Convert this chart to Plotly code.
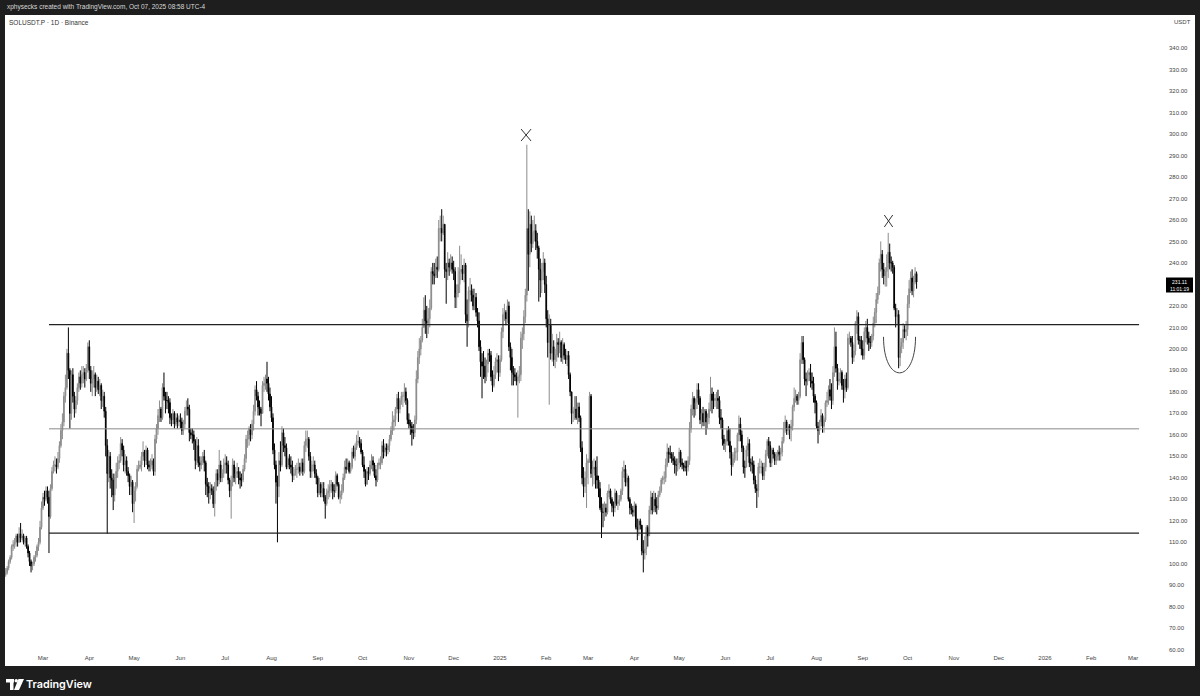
import pandas as pd
import plotly.graph_objects as go

# ---------------- data (daily SOLUSDT.P) ----------------
first_open = 98

c_2024_02 = [97,95,96,98,101,103,108,109,110,113,110,114,112,113,110,112,108,105,101,99,100,103,104,108,110,117,126]
h_2024_02 = [100,98,98,99,102,104,109,111,112,114,114,117,119,116,114,113,113,109,106,102,101,104,106,109,112,120,129]
l_2024_02 = [95,93,94,95,97,100,102,106,107,108,108,110,110,111,109,108,107,103,99,96,97,99,101,103,106,109,116]

c_2024_03 = [131,130,134,131,122,135,143,146,146,145,149,155,162,166,178,182,198,190,170,188,178,172,176,182,187,184,188,189,186,191,201]
h_2024_03 = [133,134,136,136,134,137,145,148,150,149,152,157,165,170,180,188,200,210,191,190,191,180,178,184,189,190,192,192,191,193,203]
l_2024_03 = [125,127,129,128,105,121,134,142,143,142,144,147,154,158,164,175,181,186,163,167,175,168,170,174,180,181,182,184,182,185,189]

c_2024_04 = [190,184,186,188,182,185,181,183,176,178,171,155,142,150,140,139,132,140,143,147,148,156,153,146,148,143,141,136,138,128]
h_2024_04 = [204,192,190,192,189,188,187,186,184,181,180,173,158,153,152,144,142,142,147,150,151,159,158,155,151,150,145,142,141,139]
l_2024_04 = [186,180,178,182,178,180,179,178,172,173,168,150,114,138,135,131,125,129,135,140,144,147,150,143,142,141,138,132,132,124]

c_2024_05 = [134,136,144,145,146,150,152,148,153,146,145,146,148,143,158,163,169,172,168,182,178,176,176,175,168,167,170,165,168,166,167]
h_2024_05 = [136,138,146,148,148,152,157,153,155,154,148,149,151,149,160,165,172,176,173,184,189,180,180,178,177,170,172,171,170,170,169]
l_2024_05 = [119,129,135,143,144,143,148,145,146,144,143,143,144,141,141,156,160,166,166,167,176,170,172,170,165,164,165,163,164,163,164]

c_2024_06 = [166,162,165,171,173,172,161,160,160,157,148,155,147,146,148,150,147,137,136,133,135,134,128,136,142,139,146,140,142,146]
h_2024_06 = [170,168,167,173,176,177,174,163,163,162,158,159,158,150,150,152,153,148,140,138,138,137,136,138,144,144,153,148,144,149]
l_2024_06 = [163,160,160,163,169,169,157,158,156,153,144,146,145,143,144,146,143,132,131,128,130,132,126,122,134,136,137,138,138,140]

c_2024_07 = [147,146,139,134,138,146,140,142,143,140,139,139,144,149,158,158,163,160,165,171,181,178,173,172,170,183,184,186,184,179,173]
h_2024_07 = [151,150,148,140,141,149,148,145,147,145,143,142,146,151,160,162,164,165,167,174,183,185,180,176,173,185,187,188,194,187,182]
l_2024_07 = [142,142,137,131,121,136,138,137,140,137,135,136,138,143,147,154,155,157,158,162,169,176,169,169,164,170,180,181,180,176,171]

c_2024_08 = [168,153,146,138,136,148,146,161,155,154,145,149,146,145,141,142,144,144,145,143,147,143,155,158,158,150,143,146,146,142,140]
h_2024_08 = [178,170,156,148,141,152,157,164,163,159,156,150,151,150,148,145,146,147,149,147,149,149,157,162,162,159,152,148,150,148,144]
l_2024_08 = [166,151,144,128,110,131,143,145,152,150,144,144,144,142,138,139,141,140,142,141,142,141,142,152,154,148,140,140,143,140,137]

c_2024_09 = [133,137,133,135,131,128,133,134,136,137,134,134,141,137,131,132,134,140,145,144,147,143,145,152,150,154,157,157,156,152]
h_2024_09 = [141,140,138,138,138,132,135,137,139,139,138,137,143,142,138,134,137,142,148,149,149,148,147,154,155,156,160,162,159,158]
l_2024_09 = [131,132,131,131,129,121,127,130,131,133,130,131,133,136,130,128,130,133,139,142,144,142,142,144,149,148,153,155,154,151]

c_2024_10 = [146,143,137,143,142,146,148,146,141,139,146,147,147,155,152,154,153,155,158,162,166,167,172,177,172,176,178,178,180,176,167]
h_2024_10 = [153,150,144,145,145,148,151,150,147,144,147,149,150,157,158,156,156,156,160,164,171,169,173,179,180,177,180,180,184,182,177]
l_2024_10 = [145,140,136,137,139,141,144,143,140,136,138,144,144,146,149,150,150,151,152,157,160,162,164,170,166,170,174,173,175,174,165]

c_2024_11 = [165,164,161,161,167,186,196,200,204,210,218,213,212,214,219,236,235,234,238,237,256,256,254,258,237,236,240,238,240,237]
h_2024_11 = [170,167,166,165,169,190,199,205,206,214,224,225,220,219,223,238,240,240,242,243,260,262,265,262,258,240,245,242,244,243]
l_2024_11 = [163,160,155,158,159,165,184,193,197,203,210,207,205,207,210,218,230,230,233,233,236,250,250,253,233,221,232,234,236,235]

c_2024_12 = [236,224,226,230,236,237,235,239,216,213,227,227,225,220,224,217,213,201,194,192,192,187,193,198,197,187,183,188,194,195,189]
h_2024_12 = [241,238,230,238,248,244,239,242,240,223,229,233,230,228,228,226,219,217,204,198,199,196,195,200,200,199,190,192,196,198,197]
l_2024_12 = [232,219,219,224,226,232,232,231,212,201,210,222,222,218,218,215,210,199,187,177,186,184,185,189,194,185,180,182,186,189,185]

c_2025_01 = [195,208,216,217,214,220,201,196,189,188,187,185,187,188,205,207,215,225,256,244,258,249,254,255,250,247,237,232,236,240,230]
h_2025_01 = [197,210,219,221,218,223,222,203,200,192,191,189,190,192,208,210,218,228,295,265,264,262,260,262,258,254,248,242,240,245,242]
l_2025_01 = [187,194,205,213,211,212,199,190,183,183,185,183,168,184,185,200,204,212,222,227,238,245,247,250,246,242,222,224,226,232,226]

c_2025_02 = [214,203,211,198,201,195,197,203,202,203,196,202,197,195,197,188,180,170,171,172,168,173,168,154,140,136,140,147]
h_2025_02 = [234,218,216,214,207,204,200,207,205,208,204,205,203,200,199,199,189,180,173,178,178,175,175,169,157,145,143,151]
l_2025_02 = [210,196,174,195,194,192,191,194,196,198,194,193,195,193,192,186,178,165,166,167,167,165,166,152,137,131,133,126]

c_2025_03 = [148,178,142,144,145,141,139,135,126,124,124,126,124,133,134,130,127,126,133,128,129,130,134,143,144,138,140,130,126,125,124]
h_2025_03 = [149,180,179,148,149,148,150,141,138,131,128,129,128,134,137,135,131,129,135,134,132,132,135,145,148,146,142,141,131,128,127]
l_2025_03 = [137,147,140,136,137,135,135,131,125,112,117,120,122,123,131,128,124,122,124,127,125,127,129,132,140,136,136,129,123,123,122]

c_2025_04 = [127,117,116,120,118,106,105,107,117,113,125,131,125,130,127,126,132,134,139,140,140,146,152,151,151,149,148,146,146,147]
h_2025_04 = [129,128,121,121,121,118,111,113,118,118,127,134,133,134,133,131,134,136,140,141,143,149,156,154,155,152,152,150,149,149]
l_2025_04 = [122,116,111,113,116,104,96,102,104,108,113,123,123,124,124,123,125,131,133,137,137,138,145,147,149,147,146,142,141,143]

c_2025_05 = [152,147,146,145,145,145,148,163,172,177,172,175,181,177,167,170,166,171,166,168,172,179,176,176,177,177,176,168,167,158,156]
h_2025_05 = [154,153,149,147,148,148,150,166,174,180,178,177,184,184,178,172,173,172,172,170,175,187,182,180,179,180,181,178,172,168,160]
l_2025_05 = [144,145,144,143,143,141,143,146,161,169,168,169,172,174,165,163,164,164,160,163,165,171,170,172,173,172,172,165,163,155,153]

c_2025_06 = [157,162,157,152,146,149,152,152,160,165,160,154,145,145,153,156,147,147,146,139,135,134,145,145,145,141,145,151,157,155]
h_2025_06 = [158,163,164,163,155,151,154,154,161,169,168,162,155,148,155,159,158,149,150,148,141,137,147,149,148,147,147,153,158,159]
l_2025_06 = [152,155,155,149,141,145,147,148,148,157,157,152,142,140,145,150,145,143,142,137,133,126,131,142,142,139,139,143,150,149]

c_2025_07 = [147,153,151,148,150,152,151,152,157,163,166,162,164,163,164,173,177,178,176,178,195,203,195,186,185,188,189,185,184,178,175]
h_2025_07 = [157,154,154,152,152,153,155,154,159,166,169,167,165,165,167,174,182,181,179,180,198,206,206,196,189,190,191,193,189,187,179]
l_2025_07 = [145,145,149,146,146,148,148,148,150,156,161,160,160,158,157,162,171,175,174,174,177,193,193,183,178,183,185,182,181,175,170]

c_2025_08 = [164,162,166,169,164,167,175,176,181,178,176,189,201,191,185,186,189,183,181,186,182,205,205,203,196,199,212,215,204,204,200]
h_2025_08 = [176,166,167,172,170,168,176,180,183,186,184,192,210,208,193,189,191,190,186,188,189,207,208,206,206,202,213,218,217,206,206]
l_2025_08 = [163,156,160,164,161,161,166,173,174,176,172,174,187,189,181,183,184,181,175,177,180,181,202,201,193,194,197,207,202,200,197]

c_2025_09 = [197,208,210,205,203,203,206,212,217,223,226,240,244,237,234,236,238,245,240,240,238,219,215,216,196,201,203,209,208,209]
h_2025_09 = [204,210,213,214,208,206,207,215,219,226,229,242,250,246,240,238,244,254,249,243,241,239,221,219,218,205,205,212,211,213]
l_2025_09 = [195,195,203,202,199,200,201,204,210,212,221,225,236,233,230,229,229,233,237,236,235,218,210,211,191,192,198,200,205,204]

c_2025_10 = [221,228,233,227,231,235,231.11]
h_2025_10 = [225,232,236,237,234,238,236]
l_2025_10 = [206,219,226,225,224,230,228]

months = [
    ("2024-02-03", c_2024_02, h_2024_02, l_2024_02),
    ("2024-03-01", c_2024_03, h_2024_03, l_2024_03),
    ("2024-04-01", c_2024_04, h_2024_04, l_2024_04),
    ("2024-05-01", c_2024_05, h_2024_05, l_2024_05),
    ("2024-06-01", c_2024_06, h_2024_06, l_2024_06),
    ("2024-07-01", c_2024_07, h_2024_07, l_2024_07),
    ("2024-08-01", c_2024_08, h_2024_08, l_2024_08),
    ("2024-09-01", c_2024_09, h_2024_09, l_2024_09),
    ("2024-10-01", c_2024_10, h_2024_10, l_2024_10),
    ("2024-11-01", c_2024_11, h_2024_11, l_2024_11),
    ("2024-12-01", c_2024_12, h_2024_12, l_2024_12),
    ("2025-01-01", c_2025_01, h_2025_01, l_2025_01),
    ("2025-02-01", c_2025_02, h_2025_02, l_2025_02),
    ("2025-03-01", c_2025_03, h_2025_03, l_2025_03),
    ("2025-04-01", c_2025_04, h_2025_04, l_2025_04),
    ("2025-05-01", c_2025_05, h_2025_05, l_2025_05),
    ("2025-06-01", c_2025_06, h_2025_06, l_2025_06),
    ("2025-07-01", c_2025_07, h_2025_07, l_2025_07),
    ("2025-08-01", c_2025_08, h_2025_08, l_2025_08),
    ("2025-09-01", c_2025_09, h_2025_09, l_2025_09),
    ("2025-10-01", c_2025_10, h_2025_10, l_2025_10),
]

# horizontal levels drawn on the chart
level_top = 211.3
level_mid = 162.8
level_bot = 114.3
level_start = "2024-03-05"
level_end = "2026-03-05"

last_price = 231.11
countdown = "11:01:19"

y_ticks = list(range(60, 341, 10))
hidden_y_tick = 230  # covered by the last-price label
x_tick_dates = pd.date_range("2024-03-01", "2026-03-01", freq="MS")
x_tick_text = [d.strftime("%b") if d.month != 1 else str(d.year) for d in x_tick_dates]

# ---------------- build OHLC ----------------
dates, close, high, low = [], [], [], []
for start, c, h, l in months:
    n = min(len(c), len(h), len(l))
    dates += list(pd.date_range(start, periods=n, freq="D"))
    close += c[:n]
    high += h[:n]
    low += l[:n]
opens = [first_open] + close[:-1]
high = [max(h, o, c) for h, o, c in zip(high, opens, close)]
low = [min(l, o, c) for l, o, c in zip(low, opens, close)]

# ---------------- figure ----------------
W, H = 1200, 696
ML, MR, MT, MB = 5, 38, 15, 46
PW, PH = W - ML - MR, H - MT - MB


def px_x(px):
    return (px - ML) / PW


def px_y(py):
    return (H - MB - py) / PH


fig = go.Figure()
fig.add_trace(go.Candlestick(
    x=dates, open=opens, high=high, low=low, close=close,
    increasing=dict(line=dict(color="#8c8c8c", width=1), fillcolor="#8c8c8c"),
    decreasing=dict(line=dict(color="#000000", width=1), fillcolor="#000000"),
    whiskerwidth=0, hoverinfo="skip", showlegend=False,
))

shapes = []
# white chart panel on the dark frame
shapes.append(dict(type="rect", xref="paper", yref="paper", x0=px_x(5), x1=px_x(1195),
                   y0=px_y(666), y1=px_y(15), fillcolor="#ffffff", line=dict(width=0), layer="below"))
# horizontal levels
for lv, col, wd in [(level_top, "#222222", 1.3), (level_mid, "#8a8a8a", 1), (level_bot, "#222222", 1.3)]:
    shapes.append(dict(type="line", xref="x", yref="y", x0=level_start, x1=level_end, y0=lv, y1=lv,
                       line=dict(color=col, width=wd)))
# X marks at the two tops
for xa, ya, hw, hh in [("2025-01-18 12:00", 299.5, 5, 6), ("2025-09-18 05:00", 259.5, 4.2, 6)]:
    for sgn in (1, -1):
        shapes.append(dict(type="line", xref="x", yref="y", xsizemode="pixel", ysizemode="pixel",
                           xanchor=xa, yanchor=ya, x0=-hw, x1=hw, y0=-sgn * hh, y1=sgn * hh,
                           line=dict(color="#333333", width=1)))
# U-shaped arc under the recent dip
shapes.append(dict(type="path", xref="x", yref="y", xsizemode="pixel", ysizemode="pixel",
                   xanchor="2025-09-25 14:00", yanchor=205.6,
                   path="M -16,0 C -16,-48 16,-48 16,0", line=dict(color="#444444", width=1)))
# last price box
shapes.append(dict(type="rect", xref="paper", yref="paper", x0=px_x(1166), x1=px_x(1193),
                   y0=px_y(292.5), y1=px_y(277.5), fillcolor="#000000", line=dict(width=0)))
# TradingView logo glyph
logo = dict(xref="paper", yref="paper", xsizemode="pixel", ysizemode="pixel", xanchor=0, yanchor=0,
            fillcolor="#ffffff", line=dict(width=0))
shapes.append(dict(type="rect", x0=1, x1=9, y0=-(679 - 650), y1=-(682.5 - 650), **logo))
shapes.append(dict(type="rect", x0=5, x1=8.5, y0=-(679 - 650), y1=-(690 - 650), **logo))
shapes.append(dict(type="circle", x0=9.5, x1=13, y0=-(679 - 650), y1=-(682.5 - 650), **logo))
shapes.append(dict(type="path", path="M 13.5,-29 L 19,-29 L 14,-40 L 9,-40 Z", **logo))

annotations = [
    dict(text="xphysecks created with TradingView.com, Oct 07, 2025 08:58 UTC-4", xref="paper", yref="paper",
         x=px_x(5), y=px_y(7), xanchor="left", yanchor="middle", showarrow=False,
         font=dict(family="Liberation Sans, Arial", size=6.5, color="#d8d8d8")),
    dict(text="SOLUSDT.P · 1D · Binance", xref="paper", yref="paper",
         x=px_x(7), y=px_y(22.5), xanchor="left", yanchor="middle", showarrow=False,
         font=dict(family="Liberation Sans, Arial", size=6.5, color="#333333")),
    dict(text="USDT", xref="paper", yref="paper", x=px_x(1172), y=px_y(22.5), xanchor="left",
         yanchor="middle", showarrow=False, font=dict(family="Liberation Sans, Arial", size=6, color="#444444")),
    dict(text=f"{last_price:.2f}<br>{countdown}", xref="paper", yref="paper", x=px_x(1179.5), y=px_y(285),
         xanchor="center", yanchor="middle", showarrow=False, align="center",
         font=dict(family="Liberation Sans, Arial", size=5, color="#ffffff")),
    dict(text="TradingView", xref="paper", yref="paper", x=px_x(24), y=px_y(685), xanchor="left",
         yanchor="middle", showarrow=False, font=dict(family="Inter", size=10.8, color="#ffffff", weight=600)),
]

fig.update_layout(
    width=W, height=H, autosize=False,
    margin=dict(l=ML, r=MR, t=MT, b=MB, pad=0),
    paper_bgcolor="#1e1e1e", plot_bgcolor="#ffffff",
    shapes=shapes, annotations=annotations,
    showlegend=False, hovermode=False,
    xaxis=dict(type="date", range=["2024-02-04 13:12", "2026-03-20 08:24"],
               tickvals=list(x_tick_dates), ticktext=x_tick_text,
               tickfont=dict(family="Liberation Sans, Arial", size=6, color="#444444"),
               showgrid=False, zeroline=False, showline=False, ticks="", ticklabelstandoff=3,
               rangeslider=dict(visible=False), fixedrange=True),
    yaxis=dict(side="right", range=[59.9, 355.35], tickvals=y_ticks,
               ticktext=["" if v == hidden_y_tick else f"{v:.2f}" for v in y_ticks],
               tickfont=dict(family="Liberation Sans, Arial", size=6, color="#444444"),
               showgrid=False, zeroline=False, showline=False, ticks="", ticklabelstandoff=6,
               fixedrange=True),
)

fig.write_html("out.html", config={"displayModeBar": False})

# remove the browser's default page margin so the figure fills the window exactly
with open("out.html", "r", encoding="utf-8") as f:
    html = f.read()
html = html.replace("<head>", "<head><style>html,body{margin:0;padding:0;overflow:hidden;background:#1e1e1e}</style>", 1)
with open("out.html", "w", encoding="utf-8") as f:
    f.write(html)
